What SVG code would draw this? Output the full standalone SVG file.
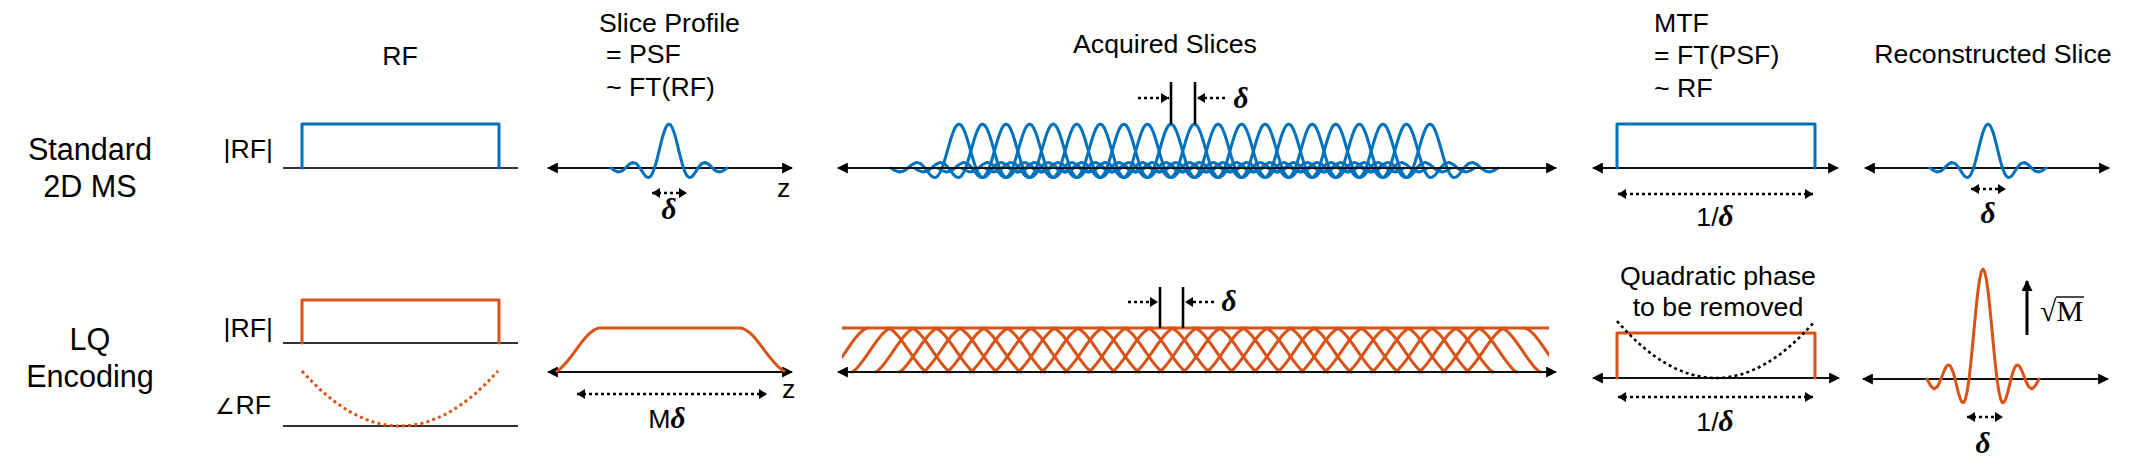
<svg xmlns="http://www.w3.org/2000/svg" xmlns:xlink="http://www.w3.org/1999/xlink" width="2130" height="476" viewBox="0 0 2130 476">
<style>
.t{font-family:"Liberation Sans",Arial,sans-serif;font-size:26.7px;fill:#000}
.lbl{font-size:30.6px}
.d{font-family:"Liberation Serif","Times New Roman",serif;font-style:italic;font-weight:bold;font-size:29.5px}
.sr{font-family:"Liberation Serif","Times New Roman",serif;font-size:30px;fill:#000}
.ax{stroke:#111;stroke-width:2.2;fill:none;marker-start:url(#ah);marker-end:url(#ah)}
.base{stroke:#333;stroke-width:2.2}
.b{fill:none;stroke:#0072BD;stroke-width:3;stroke-linejoin:round;stroke-linecap:round}
.o{fill:none;stroke:#D95319;stroke-width:3;stroke-linejoin:round;stroke-linecap:round}
.dot{stroke:#000;stroke-width:2.6;stroke-dasharray:3 3;fill:none}
.dd{marker-start:url(#sh);marker-end:url(#sh)}
.de{marker-end:url(#sh)}
.vl{stroke:#000;stroke-width:2.6}
</style>
<defs>
<marker id="ah" viewBox="0 0 10 10" refX="9" refY="5" markerWidth="11" markerHeight="11" markerUnits="userSpaceOnUse" orient="auto-start-reverse"><path d="M0,0 L10,5 L0,10 z" fill="#000"/></marker>
<marker id="sh" viewBox="0 0 8 10" refX="8" refY="5" markerWidth="8" markerHeight="10" markerUnits="userSpaceOnUse" orient="auto-start-reverse"><path d="M0,0 L8,5 L0,10 z" fill="#000"/></marker>
<path id="s4" d="M-58,0 L-54.38,2.64 -50.75,4 -47.13,3.05 -43.5,0 -39.88,-3.6 -36.25,-5.6 -32.63,-4.4 -29,0 -27.19,2.86 -25.38,5.66 -23.56,7.96 -21.75,9.34 -19.94,9.41 -18.13,7.92 -16.31,4.77 -14.5,0 -12.69,-6.1 -10.88,-13.2 -9.06,-20.7 -7.25,-28 -5.44,-34.5 -3.63,-39.6 -1.81,-42.9 0,-44 1.81,-42.9 3.63,-39.6 5.44,-34.5 7.25,-28 9.06,-20.7 10.88,-13.2 12.69,-6.1 14.5,0 16.31,4.77 18.13,7.92 19.94,9.41 21.75,9.34 23.56,7.96 25.38,5.66 27.19,2.86 29,0 32.63,-4.4 36.25,-5.6 39.88,-3.6 43.5,0 47.13,3.05 50.75,4 54.38,2.64 58,0"/>
<path id="s5" d="M-68,0 L-63.75,2.64 -59.5,4 -55.25,3.05 -51,0 -46.75,-3.6 -42.5,-5.6 -38.25,-4.4 -34,0 -31.88,2.86 -29.75,5.66 -27.63,7.96 -25.5,9.34 -23.38,9.41 -21.25,7.92 -19.13,4.77 -17,0 -14.88,-6.1 -12.75,-13.2 -10.63,-20.7 -8.5,-28 -6.38,-34.5 -4.25,-39.6 -2.13,-42.9 0,-44 2.13,-42.9 4.25,-39.6 6.38,-34.5 8.5,-28 10.63,-20.7 12.75,-13.2 14.88,-6.1 17,0 19.13,4.77 21.25,7.92 23.38,9.41 25.5,9.34 27.63,7.96 29.75,5.66 31.88,2.86 34,0 38.25,-4.4 42.5,-5.6 46.75,-3.6 51,0 55.25,3.05 59.5,4 63.75,2.64 68,0"/>
<path id="s110" d="M-56,0 L-52.5,6.6 -49,10 -45.5,7.6 -42,0 -40.25,-4.7 -38.5,-9 -36.75,-12.3 -35,-14 -33.25,-13.6 -31.5,-11 -29.75,-6.3 -28,0 -26.25,7.1 -24.5,14.1 -22.75,19.9 -21,23.3 -19.25,23.5 -17.5,19.8 -15.75,11.9 -14,0 -12.25,-15.3 -10.5,-33 -8.75,-51.8 -7,-70 -5.25,-86.3 -3.5,-99 -1.75,-107.2 0,-110 1.75,-107.2 3.5,-99 5.25,-86.3 7,-70 8.75,-51.8 10.5,-33 12.25,-15.3 14,0 15.75,11.9 17.5,19.8 19.25,23.5 21,23.3 22.75,19.9 24.5,14.1 26.25,7.1 28,0 29.75,-6.3 31.5,-11 33.25,-13.6 35,-14 36.75,-12.3 38.5,-9 40.25,-4.7 42,0 45.5,7.6 49,10 52.5,6.6 56,0"/>
<path id="rise" d="M0,0 C10,-4 27,-42 39,-44"/>
<path id="fall" d="M0,-44 C12,-42 29,-4 39,0"/>
<clipPath id="band"><rect x="842" y="320" width="707" height="60"/></clipPath>
</defs>

<g id="row-labels">
<text class="t lbl" x="90" y="160" text-anchor="middle">Standard</text>
<text class="t lbl" x="90" y="197" text-anchor="middle">2D MS</text>
<text class="t lbl" x="90" y="350" text-anchor="middle">LQ</text>
<text class="t lbl" x="90" y="387" text-anchor="middle">Encoding</text>
</g>

<g id="rf">
<text class="t" x="400" y="65" text-anchor="middle">RF</text>
<text class="t" x="273" y="158" text-anchor="end">|RF|</text>
<line class="base" x1="283" y1="168" x2="518" y2="168"/>
<path class="b" d="M302,168 V124 H499 V168"/>
<text class="t" x="273" y="337" text-anchor="end">|RF|</text>
<line class="base" x1="283" y1="343" x2="518" y2="343"/>
<path class="o" d="M302,343 V300 H499 V343"/>
<text class="t" x="271" y="414" text-anchor="end"><tspan font-size="22px">∠</tspan>RF</text>
<line class="base" x1="283" y1="426" x2="518" y2="426"/>
<path d="M302,371 Q400,481 498,371" fill="none" stroke="#D95319" stroke-width="3" stroke-dasharray="3 3.2"/>
</g>

<g id="slice-profile">
<text class="t" x="599" y="32">Slice Profile</text>
<text class="t" x="606" y="63">= PSF</text>
<text class="t" x="606" y="96">~ FT(RF)</text>
<line class="ax" x1="548" y1="168" x2="792" y2="168"/>
<use href="#s4" xlink:href="#s4" x="669" y="168" class="b"/>
<line class="dot dd" x1="652" y1="193" x2="687" y2="193"/>
<text class="d" x="669" y="219" text-anchor="middle">δ</text>
<text class="t" x="777" y="197">z</text>
<line class="ax" x1="548" y1="372" x2="792" y2="372"/>
<path class="o" d="M557,371 C571,363 584,331 599,328 L741,328 C756,331 769,363 784,371"/>
<line class="dot dd" x1="577" y1="394" x2="767" y2="394"/>
<text x="667" y="428" text-anchor="middle"><tspan class="t">M</tspan><tspan class="d">δ</tspan></text>
<text class="t" x="782" y="398">z</text>
</g>

<g id="acquired-slices">
<text class="t" x="1165" y="53" text-anchor="middle">Acquired Slices</text>
<g class="b">
<use href="#s5" xlink:href="#s5" x="959" y="168"/>
<use href="#s5" xlink:href="#s5" x="982.55" y="168"/>
<use href="#s5" xlink:href="#s5" x="1006.1" y="168"/>
<use href="#s5" xlink:href="#s5" x="1029.65" y="168"/>
<use href="#s5" xlink:href="#s5" x="1053.2" y="168"/>
<use href="#s5" xlink:href="#s5" x="1076.75" y="168"/>
<use href="#s5" xlink:href="#s5" x="1100.3" y="168"/>
<use href="#s5" xlink:href="#s5" x="1123.85" y="168"/>
<use href="#s5" xlink:href="#s5" x="1147.4" y="168"/>
<use href="#s5" xlink:href="#s5" x="1170.95" y="168"/>
<use href="#s5" xlink:href="#s5" x="1194.5" y="168"/>
<use href="#s5" xlink:href="#s5" x="1218.05" y="168"/>
<use href="#s5" xlink:href="#s5" x="1241.6" y="168"/>
<use href="#s5" xlink:href="#s5" x="1265.15" y="168"/>
<use href="#s5" xlink:href="#s5" x="1288.7" y="168"/>
<use href="#s5" xlink:href="#s5" x="1312.25" y="168"/>
<use href="#s5" xlink:href="#s5" x="1335.8" y="168"/>
<use href="#s5" xlink:href="#s5" x="1359.35" y="168"/>
<use href="#s5" xlink:href="#s5" x="1382.9" y="168"/>
<use href="#s5" xlink:href="#s5" x="1406.45" y="168"/>
<use href="#s5" xlink:href="#s5" x="1430" y="168"/>
</g>
<line class="ax" x1="838" y1="168" x2="1556" y2="168"/>
<line class="vl" x1="1171" y1="82" x2="1171" y2="124"/>
<line class="vl" x1="1195" y1="82" x2="1195" y2="124"/>
<line class="dot de" x1="1138" y1="98" x2="1169" y2="98"/>
<line class="dot de" x1="1225" y1="98" x2="1197" y2="98"/>
<text class="d" x="1241" y="108" text-anchor="middle">δ</text>

<g class="o" clip-path="url(#band)">
<line x1="842" y1="328" x2="1549" y2="328"/>
<g transform="translate(0,372)">
<use href="#rise" xlink:href="#rise" x="828.6"/>
<use href="#rise" xlink:href="#rise" x="852.2"/>
<use href="#rise" xlink:href="#rise" x="875.8"/>
<use href="#rise" xlink:href="#rise" x="899.4"/>
<use href="#rise" xlink:href="#rise" x="923"/>
<use href="#rise" xlink:href="#rise" x="946.6"/>
<use href="#rise" xlink:href="#rise" x="970.2"/>
<use href="#rise" xlink:href="#rise" x="993.8"/>
<use href="#rise" xlink:href="#rise" x="1017.4"/>
<use href="#rise" xlink:href="#rise" x="1041"/>
<use href="#rise" xlink:href="#rise" x="1064.6"/>
<use href="#rise" xlink:href="#rise" x="1088.2"/>
<use href="#rise" xlink:href="#rise" x="1111.8"/>
<use href="#rise" xlink:href="#rise" x="1135.4"/>
<use href="#rise" xlink:href="#rise" x="1159"/>
<use href="#rise" xlink:href="#rise" x="1182.6"/>
<use href="#rise" xlink:href="#rise" x="1206.2"/>
<use href="#rise" xlink:href="#rise" x="1229.8"/>
<use href="#rise" xlink:href="#rise" x="1253.4"/>
<use href="#rise" xlink:href="#rise" x="1277"/>
<use href="#rise" xlink:href="#rise" x="1300.6"/>
<use href="#rise" xlink:href="#rise" x="1324.2"/>
<use href="#rise" xlink:href="#rise" x="1347.8"/>
<use href="#rise" xlink:href="#rise" x="1371.4"/>
<use href="#rise" xlink:href="#rise" x="1395"/>
<use href="#rise" xlink:href="#rise" x="1418.6"/>
<use href="#rise" xlink:href="#rise" x="1442.2"/>
<use href="#rise" xlink:href="#rise" x="1465.8"/>
<use href="#fall" xlink:href="#fall" x="887.6"/>
<use href="#fall" xlink:href="#fall" x="911.2"/>
<use href="#fall" xlink:href="#fall" x="934.8"/>
<use href="#fall" xlink:href="#fall" x="958.4"/>
<use href="#fall" xlink:href="#fall" x="982"/>
<use href="#fall" xlink:href="#fall" x="1005.6"/>
<use href="#fall" xlink:href="#fall" x="1029.2"/>
<use href="#fall" xlink:href="#fall" x="1052.8"/>
<use href="#fall" xlink:href="#fall" x="1076.4"/>
<use href="#fall" xlink:href="#fall" x="1100"/>
<use href="#fall" xlink:href="#fall" x="1123.6"/>
<use href="#fall" xlink:href="#fall" x="1147.2"/>
<use href="#fall" xlink:href="#fall" x="1170.8"/>
<use href="#fall" xlink:href="#fall" x="1194.4"/>
<use href="#fall" xlink:href="#fall" x="1218"/>
<use href="#fall" xlink:href="#fall" x="1241.6"/>
<use href="#fall" xlink:href="#fall" x="1265.2"/>
<use href="#fall" xlink:href="#fall" x="1288.8"/>
<use href="#fall" xlink:href="#fall" x="1312.4"/>
<use href="#fall" xlink:href="#fall" x="1336"/>
<use href="#fall" xlink:href="#fall" x="1359.6"/>
<use href="#fall" xlink:href="#fall" x="1383.2"/>
<use href="#fall" xlink:href="#fall" x="1406.8"/>
<use href="#fall" xlink:href="#fall" x="1430.4"/>
<use href="#fall" xlink:href="#fall" x="1454"/>
<use href="#fall" xlink:href="#fall" x="1477.6"/>
<use href="#fall" xlink:href="#fall" x="1501.2"/>
<use href="#fall" xlink:href="#fall" x="1524.8"/>
</g>
</g>
<line class="ax" x1="838" y1="372" x2="1556" y2="372"/>
<line class="vl" x1="1160" y1="287" x2="1160" y2="328"/>
<line class="vl" x1="1183" y1="287" x2="1183" y2="328"/>
<line class="dot de" x1="1128" y1="302" x2="1158" y2="302"/>
<line class="dot de" x1="1214" y1="302" x2="1185" y2="302"/>
<text class="d" x="1229" y="311" text-anchor="middle">δ</text>
</g>

<g id="mtf">
<text class="t" x="1654" y="32">MTF</text>
<text class="t" x="1654" y="64">= FT(PSF)</text>
<text class="t" x="1654" y="97">~ RF</text>
<line class="ax" x1="1593" y1="168" x2="1838" y2="168"/>
<path class="b" d="M1617,168 V124 H1815 V168"/>
<line class="dot dd" x1="1618" y1="194" x2="1813" y2="194"/>
<text x="1715" y="226" text-anchor="middle"><tspan class="t">1/</tspan><tspan class="d">δ</tspan></text>
<text class="t" x="1718" y="285" text-anchor="middle">Quadratic phase</text>
<text class="t" x="1718" y="316" text-anchor="middle">to be removed</text>
<line class="ax" x1="1593" y1="378" x2="1839" y2="378"/>
<path class="o" d="M1617,378 V333 H1815 V378"/>
<path d="M1617,321 Q1716,435 1815,321" fill="none" stroke="#000" stroke-width="2.6" stroke-dasharray="3 3.2"/>
<line class="dot dd" x1="1618" y1="397" x2="1813" y2="397"/>
<text x="1715" y="431" text-anchor="middle"><tspan class="t">1/</tspan><tspan class="d">δ</tspan></text>
</g>

<g id="reconstructed-slice">
<text class="t" x="1993" y="63" text-anchor="middle">Reconstructed Slice</text>
<line class="ax" x1="1865" y1="168" x2="2109" y2="168"/>
<use href="#s4" xlink:href="#s4" x="1988" y="168" class="b"/>
<line class="dot dd" x1="1971" y1="189" x2="2006" y2="189"/>
<text class="d" x="1988" y="223" text-anchor="middle">δ</text>
<line class="ax" x1="1863" y1="379" x2="2108" y2="379"/>
<use href="#s110" xlink:href="#s110" x="1983" y="379" class="o"/>
<line class="dot dd" x1="1967" y1="417" x2="2003" y2="417"/>
<text class="d" x="1983" y="453" text-anchor="middle">δ</text>
<line x1="2027" y1="335" x2="2027" y2="281" stroke="#000" stroke-width="3" marker-end="url(#ah)"/>
<text class="sr" x="2040" y="321">√M</text>
<line x1="2056" y1="297" x2="2084" y2="297" stroke="#000" stroke-width="1.4"/>
</g>
</svg>
